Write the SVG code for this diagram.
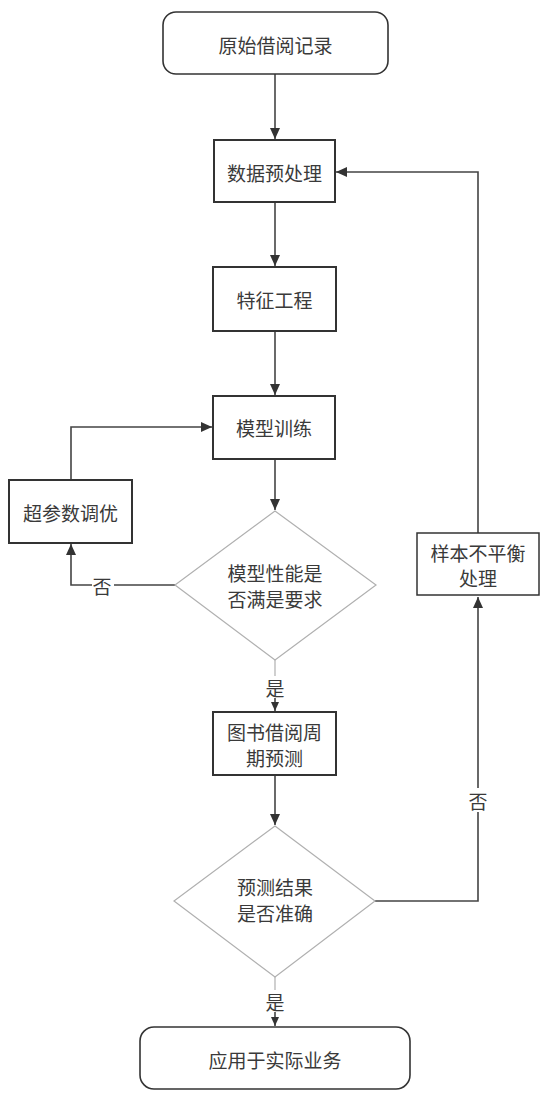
<svg xmlns="http://www.w3.org/2000/svg" width="543" height="1095" viewBox="0 0 543 1095">
<style>
.t{font-family:"Noto Sans CJK SC","Noto Sans",sans-serif;font-size:19px;fill:#3a3a3a;text-anchor:middle;dominant-baseline:central}
.box{fill:#fff;stroke:#333;stroke-width:2}
.thin{fill:#fff;stroke:#333;stroke-width:1.5}
.dia{fill:#fff;stroke:#b0b0b0;stroke-width:1.2}
.ln{fill:none;stroke:#444;stroke-width:1.6}
.lg{fill:none;stroke:#b0b0b0;stroke-width:1.2}
.lbl{fill:#fff}
</style>
<defs>
<marker id="ah" markerUnits="userSpaceOnUse" markerWidth="12" markerHeight="10" refX="11" refY="5" orient="auto">
<path d="M0,0 L11,5 L0,10 z" fill="#333"/>
</marker>
<marker id="ahs" markerUnits="userSpaceOnUse" markerWidth="10" markerHeight="8" refX="9" refY="4" orient="auto">
<path d="M0,0 L9,4 L0,8 z" fill="#333"/>
</marker>
</defs>
<rect width="543" height="1095" fill="#fff"/>
<g id="connectors">
<path class="ln" d="M275,74 V139" marker-end="url(#ah)"/>
<path class="ln" d="M275,202 V266" marker-end="url(#ah)"/>
<path class="ln" d="M275,331 V395" marker-end="url(#ah)"/>
<path class="ln" d="M275,459 V510" marker-end="url(#ah)"/>
<path class="ln" d="M175,585 H71 V544" marker-end="url(#ah)"/>
<rect class="lbl" x="92" y="574" width="22" height="22"/>
<text class="t" x="102" y="585">否</text>
<path class="ln" d="M71,480 V427 H212" marker-end="url(#ah)"/>
<path class="lg" d="M275,660 V676"/>
<text class="t" x="275" y="687">是</text>
<path class="ln" d="M275,698 V711" marker-end="url(#ahs)"/>
<path class="ln" d="M275,775 V825" marker-end="url(#ah)"/>
<path class="lg" d="M275,977 V990"/>
<text class="t" x="275" y="1001">是</text>
<path class="ln" d="M275,1012 V1026" marker-end="url(#ahs)"/>
<path class="ln" d="M375,901 H478 V597" marker-end="url(#ah)"/>
<rect class="lbl" x="468" y="788" width="20" height="24"/>
<text class="t" x="478" y="800">否</text>
<path class="ln" d="M478,533 V172 H336" marker-end="url(#ah)"/>
</g>
<g id="n-start">
<rect x="163" y="12" width="225" height="62" rx="13" class="box" style="stroke-width:1.6"/>
<text class="t" x="275.5" y="44">原始借阅记录</text>
</g>
<g id="n-preprocess">
<rect x="214" y="140" width="121" height="62" class="box"/>
<text class="t" x="274.5" y="172">数据预处理</text>
</g>
<g id="n-feature">
<rect x="213" y="267" width="123" height="64" class="box"/>
<text class="t" x="274.5" y="299">特征工程</text>
</g>
<g id="n-train">
<rect x="213" y="396" width="122" height="63" class="box"/>
<text class="t" x="274" y="427">模型训练</text>
</g>
<g id="n-tune">
<rect x="9" y="480" width="123" height="63" class="box"/>
<text class="t" x="70.5" y="512">超参数调优</text>
</g>
<g id="n-check1">
<polygon points="275,511 376,585 275,660 175,585" class="dia"/>
<text class="t"><tspan x="275" y="572">模型性能是</tspan><tspan x="275" y="598">否满是要求</tspan></text>
</g>
<g id="n-predict">
<rect x="213" y="712" width="123" height="63" class="box"/>
<text class="t"><tspan x="274.5" y="731">图书借阅周</tspan><tspan x="274.5" y="757">期预测</tspan></text>
</g>
<g id="n-check2">
<polygon points="275,826 375,901 275,977 174,901" class="dia"/>
<text class="t"><tspan x="275" y="886">预测结果</tspan><tspan x="275" y="912">是否准确</tspan></text>
</g>
<g id="n-imbalance">
<rect x="417" y="533" width="122" height="62" class="thin"/>
<text class="t"><tspan x="478" y="552">样本不平衡</tspan><tspan x="478" y="577">处理</tspan></text>
</g>
<g id="n-end">
<rect x="140" y="1027" width="270" height="62" rx="14" class="box" style="stroke-width:1.6"/>
<text class="t" x="275" y="1059">应用于实际业务</text>
</g>
</svg>
